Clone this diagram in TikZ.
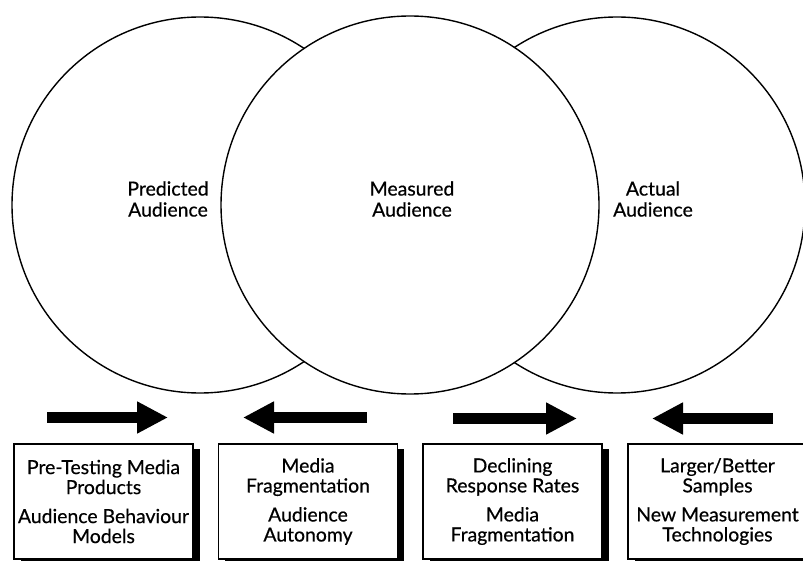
\documentclass[tikz,border=0pt]{standalone}
\usepackage{fontspec}
\setmainfont{Lato}[FakeBold=0.5]
\usetikzlibrary{arrows.meta,shadows}
\begin{document}
\begin{tikzpicture}[x=1pt,y=-1pt,
  ring/.style={line width=1.4pt},
  label/.style={align=center,font=\fontsize{19.4}{21}\selectfont},
  factor/.style={draw,line width=1.3pt,fill=white,rectangle,
    minimum width=179pt,minimum height=115pt,inner sep=0pt,align=center,
    font=\fontsize{19.4}{20}\selectfont,
    general shadow={fill=black,shadow xshift=6.5pt,shadow yshift=-5pt}},
  push/.style={line width=11pt,-{Triangle[length=31pt,width=30pt]}}]
\useasboundingbox (0,0) rectangle (803,561);
\clip (0,0) rectangle (803,561);

% the three audience circles; the middle one lies on top
\node[ring,draw,circle,minimum size=376pt,inner sep=0pt] (pred) at (200,205) {};
\node[ring,draw,circle,minimum size=376pt,inner sep=0pt] (act) at (617,205) {};
\node[ring,draw,fill=white,circle,minimum size=378pt,inner sep=0pt] (meas) at (410,205) {};

\node[label] (predlbl) at (168,199) {Predicted\\Audience};
\node[label] (measlbl) at (412,199) {Measured\\Audience};
\node[label] (actlbl) at (653,199) {Actual\\Audience};

% forces pushing the circles
\coordinate (a1s) at (47,417.5);  \coordinate (a1e) at (168,417.5);
\coordinate (a2s) at (367,417.5); \coordinate (a2e) at (243,417.5);
\coordinate (a3s) at (453,418.5); \coordinate (a3e) at (577,418.5);
\coordinate (a4s) at (773,418.5); \coordinate (a4e) at (652,418.5);
\draw[push] (a1s) -- (a1e);
\draw[push] (a2s) -- (a2e);
\draw[push] (a3s) -- (a3e);
\draw[push] (a4s) -- (a4e);

% factor boxes
\node[factor] (f1) at (103.5,501.5) {Pre-Testing Media\\Products\\[9pt]Audience Behaviour\\Models};
\node[factor] (f2) at (308,501.5) {Media\\Fragmentation\\[9pt]Audience\\Autonomy};
\node[factor] (f3) at (512.5,501.5) {Declining\\Response Rates\\[9pt]Media\\Fragmentation};
\node[factor] (f4) at (717.5,501.5) {Larger/Better\\Samples\\[9pt]New Measurement\\Technologies};
\end{tikzpicture}
\end{document}
